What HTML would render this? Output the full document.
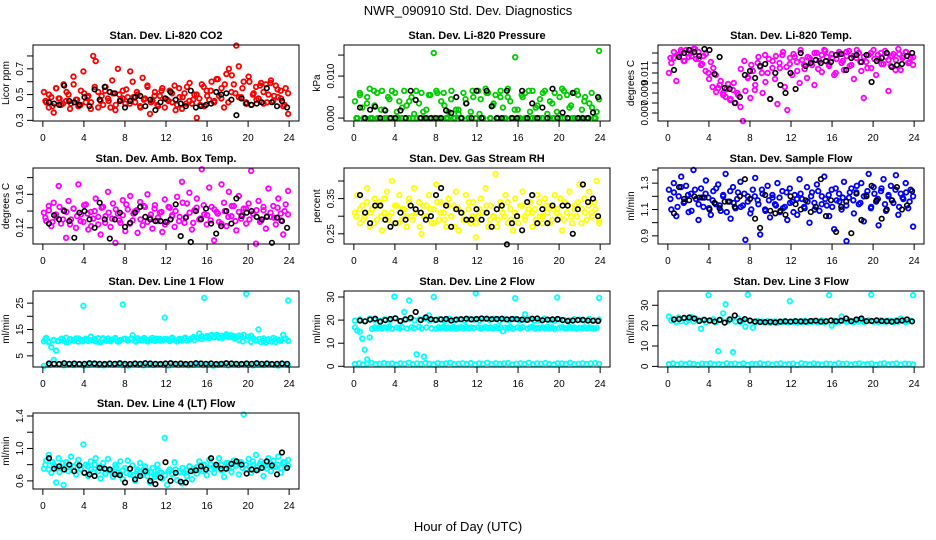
<!DOCTYPE html>
<html><head><meta charset="utf-8">
<style>
html,body{margin:0;padding:0;background:#fff;}
svg{display:block;font-family:"Liberation Sans",Arial,sans-serif;}
</style></head>
<body>
<svg id="chart" width="936" height="540" viewBox="0 0 936 540" xmlns="http://www.w3.org/2000/svg">
<text x="468" y="15" font-size="13" text-anchor="middle">NWR_090910  Std. Dev. Diagnostics</text>
<text x="468" y="531" font-size="13" text-anchor="middle">Hour of Day (UTC)</text>
</svg>
<script>
const xTicks=[0,4,8,12,16,20,24];
const co2Red=[0.52,0.44,0.40,0.48,0.36,0.55,0.47,0.42,0.58,0.45,0.50,0.43,0.64,0.46,0.41,0.53,0.68,0.44,0.49,0.39,0.80,0.76,0.52,0.45,0.42,0.56,0.47,0.40,0.51,0.38,0.70,0.46,0.53,0.43,0.48,0.68,0.60,0.44,0.50,0.41,0.63,0.47,0.56,0.35,0.45,0.52,0.42,0.49,0.55,0.40,0.46,0.53,0.44,0.57,0.42,0.48,0.39,0.51,0.56,0.45,0.43,0.50,0.32,0.47,0.58,0.41,0.53,0.46,0.60,0.44,0.62,0.49,0.55,0.40,0.66,0.70,0.52,0.58,0.88,0.72,0.48,0.60,0.44,0.64,0.42,0.51,0.56,0.47,0.59,0.43,0.58,0.50,0.61,0.45,0.57,0.48,0.53,0.41,0.55,0.35];
const co2Red2=[0.45,0.50,0.41,0.55,0.47,0.43,0.52,0.39,0.58,0.46,0.42,0.51,0.48,0.44,0.56,0.40,0.49,0.53,0.45,0.61,0.42,0.50,0.47,0.54,0.43,0.48,0.52,0.40,0.46,0.57,0.44,0.49,0.41,0.53,0.47,0.45,0.51,0.38,0.55,0.48,0.43,0.59,0.46,0.50,0.42,0.56,0.49,0.53,0.45,0.62,0.47,0.58,0.44,0.65,0.51,0.48,0.55,0.43,0.60,0.50,0.46,0.57,0.52,0.44,0.59,0.49,0.54,0.47,0.42,0.51];
const co2Black=[0.44,0.43,0.42,0.57,0.45,0.44,0.42,0.48,0.41,0.54,0.46,0.56,0.52,0.51,0.45,0.40,0.45,0.48,0.49,0.41,0.46,0.38,0.44,0.47,0.52,0.46,0.43,0.41,0.53,0.40,0.41,0.42,0.43,0.52,0.50,0.51,0.46,0.34,0.47,0.43,0.42,0.43,0.44,0.55,0.44,0.41,0.45,0.40];
const presGreen=[0.004,0,0.006,0.0025,0,0.005,0.007,0,0.003,0.006,0,0.0065,0.002,0,0.0045,0.0065,0,0.0015,0.004,0,0.0065,0.003,0,0.005,0.001,0,0.0035,0.006,0,0.002,0.0055,0,0.0155,0.0065,0,0.004,0.006,0,0.0015,0.0045,0,0.002,0.001,0,0.006,0.0035,0,0.0015,0.005,0,0.0065,0.0045,0,0.007,0.006,0,0.003,0.0055,0,0.005,0.0025,0,0.007,0.004,0,0.0145,0.002,0,0.005,0.006,0,0.0015,0.0065,0,0.003,0.0045,0,0.0065,0.001,0,0.0035,0.006,0,0.005,0.007,0,0.0055,0.0025,0,0.006,0.0065,0,0.002,0.004,0,0.0035,0.006,0,0.0015,0.016];
const presGreen2=[0,0.0055,0,0.0035,0,0.0065,0,0.002,0,0.005,0,0.006,0,0.0025,0,0.004,0,0.0065,0,0.0015,0,0.0055,0,0.006,0,0.003,0,0.0065,0,0.002,0,0.0045,0,0.0065,0,0.001,0,0.006,0,0.0035,0,0.0065,0,0.005,0,0.002,0,0.0055,0,0.0065,0,0.0025,0,0.006,0,0.004,0,0.0015,0,0.0065,0,0.003,0,0.0055,0,0.005,0,0.0025,0,0.0045];
const presBlack=[0.0025,0,0.002,0.0027,0,0.0018,0,0,0.0018,0,0.0065,0.0043,0,0,0,0,0,0.0018,0.0012,0.005,0,0.0035,0,0.0065,0,0.0065,0.0028,0,0,0.0065,0,0,0.0065,0,0.0035,0,0.0025,0,0.007,0,0.0013,0,0.006,0,0,0,0.0013,0.005];
const tempMag=[0.0110,0.0120,0.0125,0.0102,0.0128,0.0131,0.0122,0.0133,0.0126,0.0130,0.0134,0.0124,0.0131,0.0118,0.0127,0.0129,0.0110,0.0121,0.0115,0.0108,0.0095,0.0102,0.0090,0.0086,0.0099,0.0084,0.0093,0.0080,0.0088,0.0076,0.0062,0.0092,0.0105,0.0085,0.0112,0.0098,0.0120,0.0116,0.0090,0.0128,0.0110,0.0084,0.0122,0.0104,0.0079,0.0115,0.0128,0.0096,0.0073,0.0119,0.0108,0.0126,0.0112,0.0100,0.0123,0.0114,0.0105,0.0125,0.0118,0.0098,0.0130,0.0122,0.0111,0.0133,0.0126,0.0117,0.0129,0.0108,0.0124,0.0131,0.0120,0.0113,0.0127,0.0132,0.0118,0.0104,0.0125,0.0130,0.0112,0.0085,0.0121,0.0128,0.0115,0.0133,0.0108,0.0124,0.0130,0.0119,0.0126,0.0092,0.0117,0.0129,0.0123,0.0134,0.0113,0.0127,0.0131,0.0120,0.0125,0.0118];
const tempMag2=[0.0125,0.0131,0.0128,0.0133,0.0122,0.0130,0.0127,0.0134,0.0124,0.0119,0.0112,0.0104,0.0096,0.0091,0.0098,0.0088,0.0094,0.0083,0.0100,0.0090,0.0114,0.0122,0.0106,0.0118,0.0093,0.0126,0.0110,0.0101,0.0124,0.0115,0.0127,0.0120,0.0131,0.0116,0.0125,0.0129,0.0121,0.0133,0.0118,0.0126,0.0123,0.0130,0.0114,0.0128,0.0132,0.0119,0.0125,0.0110,0.0129,0.0122,0.0131,0.0117,0.0127,0.0133,0.0121,0.0126,0.0115,0.0130,0.0124,0.0128,0.0119,0.0132,0.0123,0.0127,0.0113,0.0129,0.0125,0.0131,0.0121,0.0126];
const tempBlack=[0.0113,0.0126,0.0130,0.0133,0.0131,0.0127,0.0134,0.0133,0.0109,0.0126,0.0095,0.0094,0.0080,0.0086,0.0108,0.0112,0.0105,0.0117,0.0119,0.0084,0.0110,0.0098,0.0090,0.0110,0.0094,0.0130,0.0117,0.0120,0.0123,0.0120,0.0122,0.0121,0.0128,0.0129,0.0113,0.0125,0.0128,0.0121,0.0128,0.0101,0.0122,0.0125,0.0130,0.0116,0.0118,0.0119,0.0127,0.0130];
const ambMag=[0.138,0.128,0.146,0.122,0.150,0.133,0.170,0.125,0.141,0.108,0.152,0.130,0.143,0.120,0.172,0.136,0.127,0.148,0.118,0.139,0.131,0.155,0.124,0.112,0.145,0.134,0.163,0.121,0.149,0.102,0.137,0.126,0.153,0.116,0.142,0.158,0.129,0.140,0.114,0.151,0.123,0.145,0.160,0.132,0.119,0.147,0.128,0.138,0.115,0.154,0.127,0.144,0.135,0.121,0.157,0.133,0.175,0.126,0.149,0.162,0.118,0.141,0.155,0.130,0.190,0.136,0.124,0.168,0.145,0.105,0.139,0.127,0.172,0.150,0.122,0.163,0.134,0.146,0.117,0.158,0.131,0.143,0.125,0.149,0.188,0.136,0.101,0.152,0.128,0.141,0.119,0.167,0.133,0.146,0.124,0.155,0.137,0.112,0.148,0.164];
const ambMag2=[0.132,0.141,0.127,0.136,0.145,0.130,0.139,0.124,0.143,0.134,0.128,0.147,0.137,0.122,0.140,0.133,0.144,0.126,0.138,0.131,0.142,0.129,0.135,0.148,0.125,0.137,0.141,0.130,0.146,0.127,0.136,0.143,0.132,0.139,0.124,0.145,0.134,0.140,0.128,0.150,0.133,0.138,0.126,0.144,0.131,0.147,0.135,0.129,0.142,0.137,0.125,0.140,0.133,0.146,0.128,0.139,0.135,0.143,0.130,0.137,0.141,0.127,0.145,0.134,0.138,0.132,0.144,0.129,0.140,0.136];
const ambBlack=[0.125,0.135,0.130,0.140,0.128,0.108,0.138,0.140,0.130,0.120,0.150,0.130,0.107,0.130,0.138,0.121,0.126,0.138,0.145,0.133,0.130,0.128,0.128,0.127,0.130,0.148,0.110,0.132,0.103,0.140,0.130,0.143,0.125,0.113,0.122,0.140,0.125,0.155,0.134,0.138,0.140,0.133,0.130,0.133,0.102,0.132,0.128,0.120];
const rhYellow=[0.31,0.36,0.28,0.33,0.30,0.38,0.27,0.32,0.35,0.29,0.34,0.26,0.31,0.37,0.30,0.40,0.28,0.33,0.36,0.29,0.32,0.27,0.35,0.30,0.38,0.31,0.34,0.25,0.30,0.33,0.36,0.28,0.32,0.39,0.29,0.34,0.31,0.27,0.35,0.30,0.33,0.37,0.26,0.31,0.29,0.36,0.32,0.28,0.34,0.24,0.30,0.35,0.31,0.38,0.27,0.33,0.30,0.42,0.29,0.34,0.31,0.36,0.28,0.32,0.26,0.35,0.30,0.33,0.37,0.29,0.31,0.34,0.27,0.32,0.36,0.30,0.28,0.35,0.31,0.33,0.29,0.36,0.32,0.30,0.26,0.34,0.31,0.37,0.28,0.33,0.30,0.39,0.32,0.35,0.29,0.37,0.31,0.34,0.40,0.28];
const rhYellow2=[0.30,0.32,0.29,0.34,0.31,0.28,0.33,0.30,0.35,0.29,0.31,0.33,0.28,0.32,0.30,0.34,0.29,0.31,0.27,0.33,0.30,0.32,0.28,0.34,0.31,0.29,0.33,0.30,0.27,0.32,0.31,0.29,0.34,0.30,0.28,0.32,0.31,0.33,0.29,0.30,0.27,0.32,0.30,0.34,0.29,0.31,0.28,0.33,0.30,0.32,0.31,0.29,0.34,0.30,0.33,0.28,0.32,0.31,0.35,0.29,0.33,0.30,0.32,0.34,0.28,0.31,0.33,0.30,0.32,0.29];
const rhBlack=[0.36,0.31,0.28,0.33,0.33,0.29,0.27,0.28,0.31,0.29,0.33,0.32,0.31,0.29,0.30,0.36,0.38,0.33,0.27,0.32,0.31,0.29,0.29,0.32,0.29,0.31,0.27,0.32,0.33,0.22,0.28,0.30,0.26,0.34,0.36,0.28,0.32,0.28,0.33,0.29,0.33,0.33,0.25,0.32,0.39,0.34,0.35,0.30];
const flowBlue=[1.25,1.10,1.30,1.05,1.20,1.35,1.15,1.28,1.08,1.22,1.40,1.18,1.02,1.26,1.12,1.32,1.19,1.06,1.24,1.14,1.29,1.09,1.21,1.37,1.16,1.03,1.27,1.11,1.23,1.31,1.13,0.87,1.20,1.07,1.25,1.34,1.17,0.91,1.22,1.10,1.28,1.04,1.19,1.14,1.30,1.08,1.24,1.12,1.02,1.26,1.16,1.21,1.06,1.33,1.18,1.11,1.27,1.00,1.23,1.15,1.29,1.09,1.20,1.35,1.13,1.05,1.25,0.95,1.17,1.22,1.10,1.31,0.86,1.19,1.26,1.07,1.23,1.14,1.30,1.01,1.21,1.37,1.12,1.27,1.16,0.98,1.24,1.33,1.09,1.20,1.28,1.15,1.36,1.06,1.22,1.18,1.30,1.11,1.25,0.97];
const flowBlue2=[1.18,1.23,1.12,1.27,1.16,1.21,1.09,1.25,1.14,1.19,1.22,1.11,1.17,1.26,1.13,1.20,1.08,1.24,1.15,1.18,1.12,1.22,1.16,1.10,1.20,1.14,1.25,1.09,1.17,1.21,1.13,1.19,1.11,1.23,1.15,1.08,1.18,1.22,1.12,1.16,1.20,1.10,1.24,1.14,1.18,1.21,1.12,1.26,1.16,1.19,1.13,1.23,1.17,1.28,1.15,1.20,1.24,1.11,1.22,1.18,1.26,1.14,1.21,1.17,1.25,1.12,1.19,1.23,1.16,1.20];
const flowBlack=[1.07,1.27,1.18,1.17,1.20,1.19,1.19,1.10,1.15,1.11,1.16,1.16,1.12,1.20,1.33,1.18,1.03,0.96,1.21,1.09,1.07,1.09,1.06,1.20,1.14,1.10,1.17,1.08,1.12,1.33,1.05,1.17,0.93,1.12,1.16,0.92,1.22,1.02,1.20,1.28,1.17,1.03,1.10,1.17,1.27,1.10,1.13,1.24];
const line1High=[10.5,11.8,10.2,8.2,11.0,7.0,10.6,11.4,10.8,11.9,10.3,11.2,10.9,11.6,10.4,11.1,24.0,11.5,10.7,12.3,11.0,10.5,11.7,10.2,11.3,10.9,11.6,10.6,11.2,11.8,10.4,11.0,24.5,11.5,10.8,11.3,12.8,10.6,11.7,11.1,10.9,11.4,10.5,11.2,11.8,10.7,11.0,11.5,10.8,19.5,11.3,10.6,11.9,11.1,10.5,11.4,10.9,11.7,10.8,11.2,11.6,11.0,12.0,13.5,11.4,27.0,12.5,11.8,12.9,12.2,13.0,11.9,12.6,12.3,13.2,12.1,12.8,12.5,11.9,12.7,12.4,13.0,28.5,12.2,12.6,11.5,10.8,15.0,10.2,11.6,10.0,11.3,10.6,11.8,10.3,11.1,10.7,13.0,11.5,26.0];
const line1Band2=[11.2,10.4,11.0,10.6,11.5,10.2,11.3,10.8,11.6,10.5,11.1,10.9,11.4,10.3,11.7,10.7,11.0,11.5,10.6,11.3,10.9,11.6,10.4,11.2,11.8,10.7,11.1,11.5,10.8,11.4,11.0,11.7,10.6,11.3,11.9,11.2,12.1,11.7,12.4,11.9,12.6,12.0,12.3,11.8,12.5,12.2,11.6,11.0,10.5,11.2,10.3,10.9,11.4,10.6,11.1,10.4,11.3,10.8,11.5,10.7];
const line1Low=[1.2,1.5,3.5,1.8,1.4,1.7,1.5,1.9,1.3,1.6,1.8,1.5,1.4,1.7,1.6,1.9,1.5,1.3,1.8,1.6,1.4,1.7,1.5,1.8,1.6,1.3,1.9,1.5,1.7,1.4,1.6,1.8,1.5,1.7,1.3,1.6,1.9,1.4,1.7,1.5,1.8,1.6,1.4,1.7,1.5,1.9,1.6,1.3,1.8,1.5];
const line1Black=[2.1,2.0,1.9,2.2,2.0,2.1,1.9,2.0,2.2,2.1,2.0,1.9,2.1,2.0,2.2,2.0,1.9,2.1,2.0,2.2,2.1,2.0,1.9,2.1,2.2,2.0,2.1,1.9,2.0,2.2,2.1,2.0,2.1,1.9,2.0,2.2,2.1,2.0,1.9,2.1,2.0,2.2,2.0,2.1,1.9,2.0,2.1,2.0];
const line2Top=[19.8,20.3,19.5,20.6,20.1,19.7,20.4,20.0,20.8,19.6,20.2,20.5,19.9,20.3,20.7,19.8,20.1,20.4,19.7,20.6,20.0,20.3,19.9,20.5,20.2,19.8,20.4,20.1,20.6,19.7,20.3,20.0,20.5,19.9,20.2,20.4,19.8,20.1,20.6,20.0,19.7,20.3,20.1,19.9,20.4,20.2,19.8,20.5,20.0,20.2];
const line2Mid=[16.8,15.5,15.0,12.0,7.2,3.0,12.5,16.2,16.8,16.5,17.0,16.4,16.9,16.6,17.1,16.3,30.2,16.8,16.5,17.0,23.5,16.4,28.5,16.9,16.6,5.2,17.0,16.4,4.2,16.8,22.0,16.5,30.0,16.3,16.9,16.6,17.1,16.4,16.8,16.5,17.0,16.3,16.7,16.9,16.5,17.1,16.4,16.8,16.6,31.5,16.9,16.3,16.7,17.0,16.5,16.8,16.4,17.1,16.6,16.9,15.2,16.7,16.5,17.0,16.3,29.5,16.8,16.5,16.9,22.5,16.4,16.8,17.0,16.3,16.7,16.6,16.9,16.4,17.1,16.5,16.8,16.3,29.8,16.7,16.9,16.5,16.4,17.0,16.6,16.8,16.3,16.7,16.5,16.9,16.4,16.8,16.6,16.3,16.7,29.6];
const line2Low=[1.0,1.3,0.8,1.2,1.5,0.9,1.1,1.4,1.0,1.2,0.8,1.3,1.1,1.5,0.9,1.2,1.0,1.4,1.1,0.8,1.3,1.0,1.2,1.5,0.9,1.1,1.3,1.0,1.4,0.8,1.2,1.1,1.5,0.9,1.3,1.0,1.2,1.4,0.8,1.1,1.3,1.0,1.5,0.9,1.2,1.1,1.4,1.0,0.8,1.3,1.2,1.0,1.5,0.9,1.1,1.3,1.0,1.2,1.4,1.1];
const line2Black=[19.8,19.5,20.2,20.6,19.3,20.0,20.5,20.8,19.6,20.3,21.0,23.5,20.0,21.2,20.4,20.1,20.3,20.5,19.8,20.2,20.4,20.6,20.3,20.5,20.7,20.6,20.4,20.5,20.6,20.3,20.5,20.4,20.2,20.1,20.6,20.7,19.9,20.2,20.3,20.5,20.0,19.6,19.8,20.0,20.1,19.8,19.7,19.6];
const line3Band=[24.5,22.5,23.0,21.8,24.0,22.2,23.5,21.9,22.8,24.2,22.1,23.3,22.6,18.5,22.9,21.7,35.0,22.4,23.1,21.6,7.5,22.8,26.0,30.5,22.3,23.2,7.0,22.0,23.6,21.8,22.5,19.5,35.2,22.1,19.0,21.5,22.3,21.8,22.0,21.6,22.2,21.4,21.9,22.1,21.5,22.0,21.7,22.3,21.6,32.0,21.9,22.2,21.5,22.0,21.8,22.4,21.6,22.1,21.9,22.3,21.7,22.0,22.5,21.6,22.2,35.0,20.0,22.4,21.8,22.0,24.5,22.3,21.9,22.6,22.1,21.8,22.4,22.0,22.7,21.9,22.2,22.5,35.2,22.0,22.3,21.8,22.6,22.1,21.9,22.4,22.2,21.7,22.5,22.0,23.5,22.3,21.8,22.1,22.4,35.0];
const line3Low=[1.1,1.4,0.9,1.3,1.0,1.5,1.2,0.8,1.3,1.1,1.4,1.0,1.2,0.9,1.5,1.1,1.3,1.0,1.4,0.8,1.2,1.1,1.5,1.0,1.3,0.9,1.2,1.4,1.0,1.1,1.3,0.8,1.5,1.2,1.0,1.4,1.1,0.9,1.3,1.2,1.0,1.5,1.1,1.3,0.9,1.2,1.4,1.0,1.1,1.3,0.8,1.2,1.5,1.0,1.1,1.4,0.9,1.3,1.2,1.0];
const line3Black=[23.0,23.2,23.8,24.0,23.5,22.3,22.8,22.5,22.0,22.8,21.5,23.0,25.0,22.3,23.2,22.5,22.0,21.8,21.7,21.9,21.6,22.0,22.1,22.0,22.2,22.1,22.0,22.3,22.4,22.0,22.1,22.5,22.2,22.4,23.5,22.2,23.0,23.5,22.2,22.3,22.6,22.3,22.2,22.0,22.3,22.5,23.0,22.1];
const line4Cyan=[0.75,0.85,0.92,0.70,0.80,0.58,0.88,0.76,0.55,0.83,0.72,0.90,0.78,0.68,0.86,0.74,1.05,0.80,0.66,0.84,0.71,0.88,0.77,0.63,0.82,0.69,0.87,0.73,0.65,0.80,0.70,0.84,0.62,0.76,0.85,0.68,0.79,0.60,0.74,0.82,0.67,0.78,0.72,0.58,0.76,0.65,0.80,0.70,0.63,1.13,0.55,0.74,0.68,0.83,0.61,0.72,0.57,0.70,0.66,0.78,0.62,0.75,0.69,0.84,0.72,0.80,0.67,0.86,0.74,0.70,0.78,0.88,0.73,0.65,0.82,0.76,0.71,0.85,0.79,0.68,0.83,1.42,0.75,0.87,0.70,0.80,0.92,0.74,0.84,0.66,0.79,0.88,0.72,0.85,0.77,0.90,0.70,0.83,0.76,0.86];
const line4Cyan2=[0.80,0.74,0.83,0.77,0.71,0.82,0.76,0.79,0.73,0.81,0.75,0.70,0.78,0.74,0.80,0.72,0.76,0.69,0.74,0.71,0.77,0.68,0.73,0.70,0.75,0.67,0.72,0.69,0.74,0.66,0.71,0.68,0.73,0.70,0.67,0.72,0.69,0.74,0.71,0.76,0.73,0.78,0.72,0.77,0.74,0.79,0.76,0.81,0.75,0.78,0.80,0.74,0.82,0.77,0.79,0.83,0.76,0.80,0.78,0.84,0.77,0.81,0.79,0.75,0.82,0.78,0.80,0.76,0.83,0.79];
const line4Black=[0.88,0.75,0.78,0.74,0.80,0.72,0.79,0.70,0.68,0.66,0.76,0.75,0.74,0.68,0.67,0.58,0.75,0.62,0.66,0.72,0.60,0.56,0.64,0.83,0.60,0.70,0.59,0.58,0.72,0.73,0.78,0.74,0.88,0.80,0.75,0.75,0.81,0.84,0.80,0.69,0.74,0.73,0.76,0.84,0.79,0.68,0.95,0.76];

const NS='http://www.w3.org/2000/svg';
const svg=document.getElementById('chart');
const colL=[33,344,658], rowT=[45,168,291,413], boxW=266, boxH=76;
function mk(tag,attrs,parent){const e=document.createElementNS(NS,tag);for(const k in attrs)e.setAttribute(k,attrs[k]);(parent||svg).appendChild(e);return e;}

const panels=[
 {name:'co2',title:'Stan. Dev. Li-820 CO2',ylab:'Licor ppm',col:0,row:0,ylim:[0.295,0.885],ticks:[0.3,0.4,0.5,0.6,0.7,0.8],labels:['0.3','','0.5','','0.7',''],series:[[co2Red,'#ff0000',0.1],[co2Red2,'#ff0000',0.25],[co2Black,'#000',0.6]]},
 {name:'pressure',title:'Stan. Dev. Li-820 Pressure',ylab:'kPa',col:1,row:0,ylim:[-0.0007,0.0174],ticks:[0,0.005,0.010,0.015],labels:['0.000','','0.010',''],series:[[presGreen,'#00cd00',0.1],[presGreen2,'#00cd00',0.25],[presBlack,'#000',0.6]]},
 {name:'li820-temp',title:'Stan. Dev. Li-820 Temp.',ylab:'degrees C',col:2,row:0,ylim:[0.0062,0.0138],ticks:[0.007,0.008,0.009,0.010,0.011,0.012,0.013],labels:['0.007','','0.009','','0.011','',''],series:[[tempMag,'#ff00ff',0.1],[tempMag2,'#ff00ff',0.25],[tempBlack,'#000',0.6]]},
 {name:'amb-box-temp',title:'Stan. Dev. Amb. Box Temp.',ylab:'degrees C',col:0,row:1,ylim:[0.1006,0.1915],ticks:[0.12,0.14,0.16,0.18],labels:['0.12','','0.16',''],series:[[ambMag,'#ff00ff',0.1],[ambMag2,'#ff00ff',0.25],[ambBlack,'#000',0.6]]},
 {name:'gas-stream-rh',title:'Stan. Dev. Gas Stream RH',ylab:'percent',col:1,row:1,ylim:[0.221,0.437],ticks:[0.25,0.30,0.35,0.40],labels:['0.25','','0.35',''],series:[[rhYellow,'#ffff00',0.1],[rhYellow2,'#ffff00',0.25],[rhBlack,'#000',0.6]]},
 {name:'sample-flow',title:'Stan. Dev. Sample Flow',ylab:'ml/min',col:2,row:1,ylim:[0.838,1.415],ticks:[0.9,1.0,1.1,1.2,1.3,1.4],labels:['0.9','','1.1','','1.3',''],series:[[flowBlue,'#0000ff',0.1],[flowBlue2,'#0000ff',0.25],[flowBlack,'#000',0.6]]},
 {name:'line1-flow',title:'Stan. Dev. Line 1 Flow',ylab:'ml/min',col:0,row:2,ylim:[0.77,29.6],ticks:[5,10,15,20,25],labels:['5','','15','','25'],series:[[line1High,'#00ffff',0.1],[line1Band2,'#00ffff',0.25],[line1Low,'#00ffff',0.1],[line1Black,'#000',0.6]]},
 {name:'line2-flow',title:'Stan. Dev. Line 2 Flow',ylab:'ml/min',col:1,row:2,ylim:[-0.3,32.6],ticks:[0,10,20,30],labels:['0','10','20','30'],series:[[line2Top,'#00ffff',0.1],[line2Mid,'#00ffff',0.1],[line2Low,'#00ffff',0.1],[line2Black,'#000',0.6]]},
 {name:'line3-flow',title:'Stan. Dev. Line 3 Flow',ylab:'ml/min',col:2,row:2,ylim:[-0.3,37],ticks:[0,10,20,30],labels:['0','10','20','30'],series:[[line3Band,'#00ffff',0.1],[line3Low,'#00ffff',0.1],[line3Black,'#000',0.6]]},
 {name:'line4-flow',title:'Stan. Dev. Line 4 (LT) Flow',ylab:'ml/min',col:0,row:3,ylim:[0.50,1.437],ticks:[0.6,0.8,1.0,1.2,1.4],labels:['0.6','','1.0','','1.4'],series:[[line4Cyan,'#00ffff',0.1],[line4Cyan2,'#00ffff',0.25],[line4Black,'#000',0.6]]}
];

panels.forEach(p=>{
  const L=colL[p.col], T=rowT[p.row];
  const g=mk('g',{});
  
  
  const xs=v=>L+(v+0.96)/25.92*boxW;
  const ys=v=>T+boxH-(v-p.ylim[0])/(p.ylim[1]-p.ylim[0])*boxH;
  const t=mk('text',{x:L+boxW/2,y:T-6,'font-size':11,'font-weight':'bold','text-anchor':'middle'},g);
  t.textContent=p.title;
  
  
  const pg=mk('g',{fill:'none'},g);
  
  
  p.series.forEach(([vals,color,x0])=>{
    const black=color==='#000';
    const x1=black?23.8:23.9;
    vals.forEach((v,i)=>{
      const hx=x0+i*(x1-x0)/(vals.length-1);
      const c=mk('circle',{cx:xs(hx).toFixed(1),cy:ys(v).toFixed(1),r:2.3,stroke:color,'stroke-width':black?1.6:1.8},pg);
      
      
    });
  });
  const box=mk('rect',{x:L,y:T,width:boxW,height:boxH,fill:'none',stroke:'#000','stroke-width':1},g);
  
  
  const xa=mk('g',{},g);
  
  
  mk('line',{x1:xs(0),x2:xs(24),y1:T+boxH,y2:T+boxH,stroke:'#000'},xa);
  xTicks.forEach(v=>{
    mk('line',{x1:xs(v),x2:xs(v),y1:T+boxH,y2:T+boxH+6,stroke:'#000'},xa);
    const tx=mk('text',{x:xs(v),y:T+boxH+20,'font-size':10,'text-anchor':'middle'},xa);
    tx.textContent=v;
    
    
  });
  const ya=mk('g',{},g);
  
  
  p.ticks.forEach((v,i)=>{
    const y=ys(v);
    mk('line',{x1:L-6,x2:L,y1:y,y2:y,stroke:'#000'},ya);
    if(p.labels[i]){
      const tx=mk('text',{x:L-10,y:y,'font-size':10,'text-anchor':'middle',transform:`rotate(-90 ${L-10} ${y})`},ya);
      tx.textContent=p.labels[i];
      
      
    }
  });
  mk('line',{x1:L,x2:L,y1:ys(p.ticks[0]),y2:ys(p.ticks[p.ticks.length-1]),stroke:'#000'},ya);
  const yl=mk('text',{x:L-24,y:T+boxH/2,'font-size':10,'text-anchor':'middle',transform:`rotate(-90 ${L-24} ${T+boxH/2})`},ya);
  yl.textContent=p.ylab;
  
  
});
</script>
</body></html>
